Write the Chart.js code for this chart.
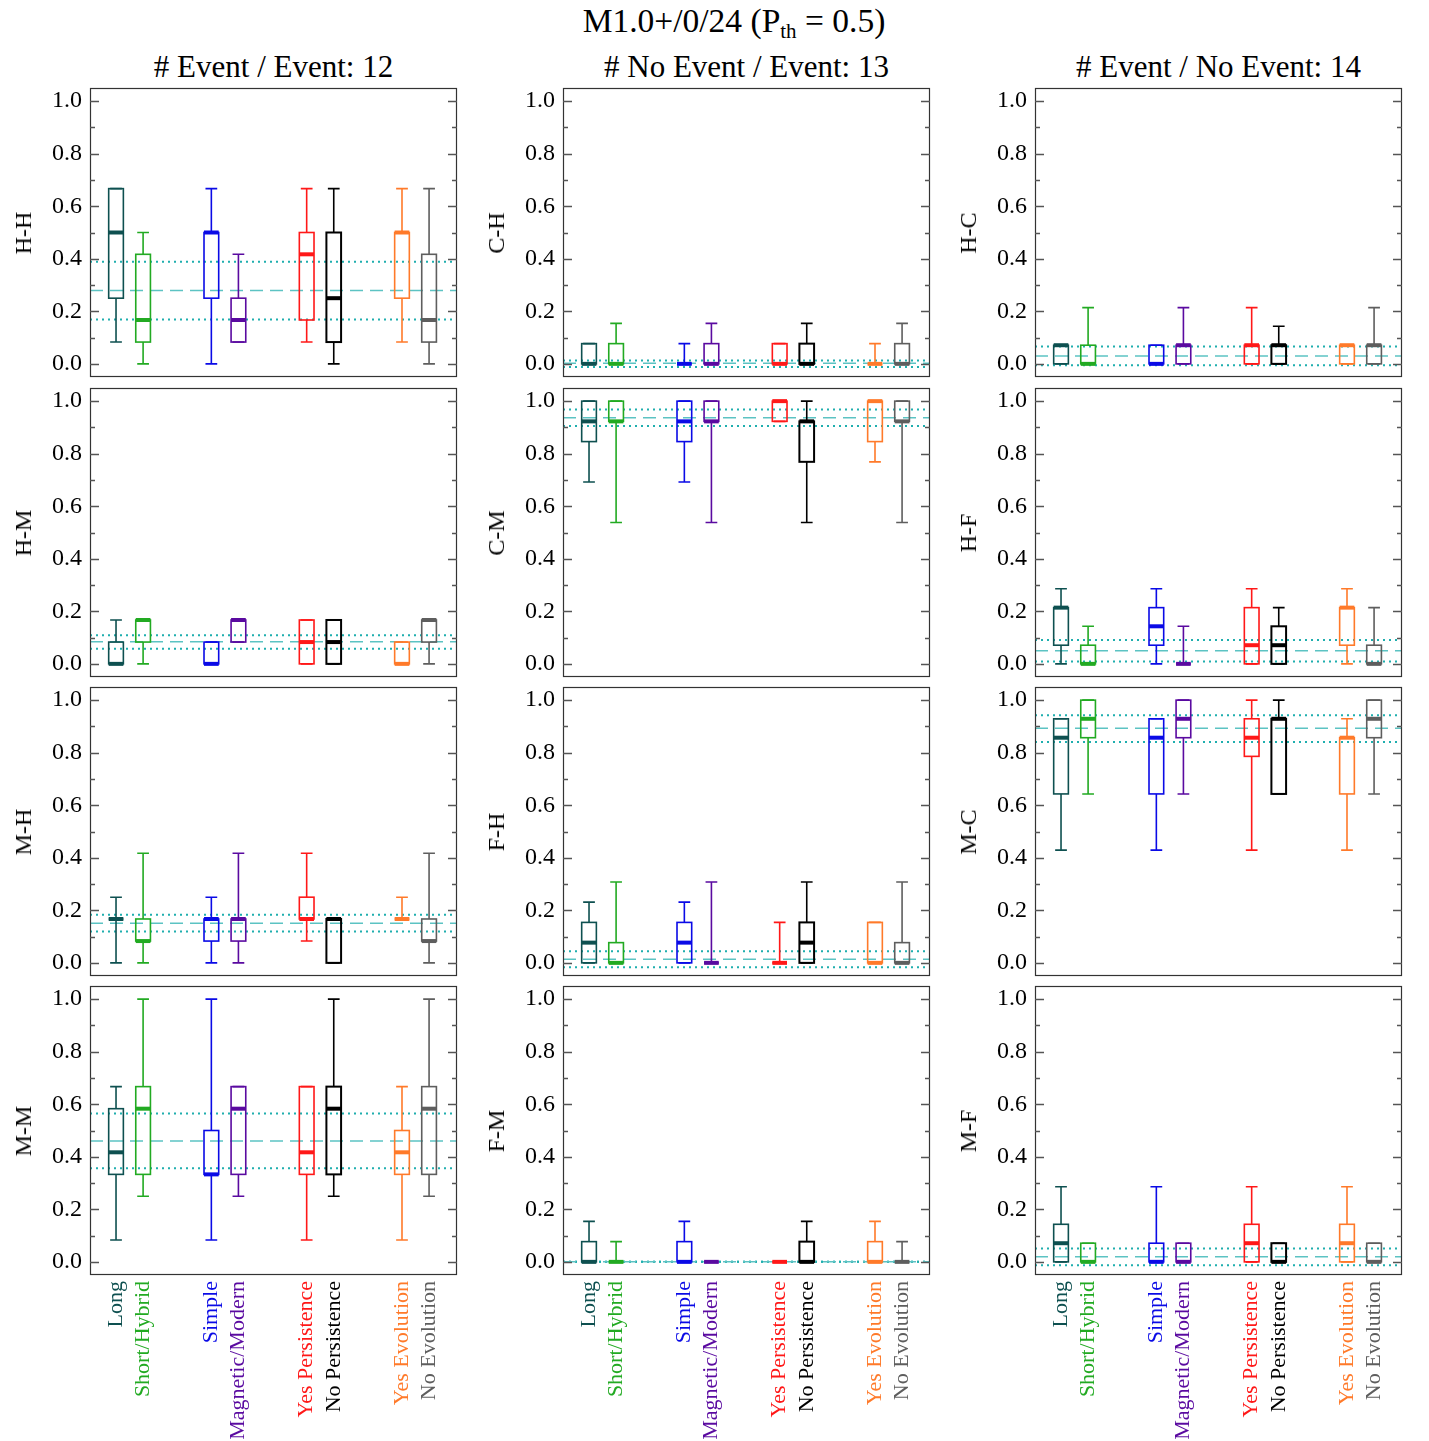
<!DOCTYPE html>
<html><head><meta charset="utf-8">
<script src="https://cdn.jsdelivr.net/npm/chart.js@4.4.0/dist/chart.umd.min.js"></script>
<style>
body{margin:0;background:#fff;}
#page{position:relative;width:1429px;height:1441px;overflow:hidden;background:#fff;font-family:"Liberation Serif","DejaVu Serif",serif;color:#000;}
#page canvas{position:absolute;}
.t{position:absolute;white-space:nowrap;transform:translate(-50%,-50%);line-height:1;}
.r{position:absolute;white-space:nowrap;transform:translate(-50%,-50%) rotate(-90deg);font-size:24px;line-height:1;}
</style></head><body><div id="page"></div>
<script>
// ---------- data ----------
const mainTitle = 'M1.0+/0/24 (P<sub style="font-size:21px;vertical-align:-6px">th</sub> = 0.5)';
const columnTitles = ['# Event / Event: 12', '# No Event / Event: 13', '# Event / No Event: 14'];
const rowLabels = [['H-H','C-H','H-C'],['H-M','C-M','H-F'],['M-H','F-H','M-C'],['M-M','F-M','M-F']];
const categories = ['Long','Short/Hybrid','Simple','Magnetic/Modern','Yes Persistence','No Persistence','Yes Evolution','No Evolution'];
const categoryGroup = [1,1,2,2,3,3,4,4];
const categorySide = [-1,1,-1,1,-1,1,-1,1];
const yTickValues = [0,0.2,0.4,0.6,0.8,1.0];

// each entry: [whisker low, q1, median, q3, whisker high]
const HH = [[0.083,0.25,0.5,0.667,0.667],[0,0.083,0.167,0.417,0.5],[0,0.25,0.5,0.5,0.667],[0.083,0.083,0.167,0.25,0.417],[0.083,0.167,0.417,0.5,0.667],[0,0.083,0.25,0.5,0.667],[0.083,0.25,0.5,0.5,0.667],[0,0.083,0.167,0.417,0.667]];
const CH = [[0,0,0,0.077,0.077],[0,0,0,0.077,0.154],[0,0,0,0,0.077],[0,0,0,0.077,0.154],[0,0,0,0.077,0.077],[0,0,0,0.077,0.154],[0,0,0,0,0.077],[0,0,0,0.077,0.154]];
const HC = [[0,0,0.071,0.071,0.071],[0,0,0,0.071,0.214],[0,0,0,0.071,0.071],[0,0,0.071,0.071,0.214],[0,0,0.071,0.071,0.214],[0,0,0.071,0.071,0.143],[0,0,0.071,0.071,0.071],[0,0,0.071,0.071,0.214]];
const HM = [[0,0,0,0.083,0.167],[0,0.083,0.167,0.167,0.167],[0,0,0,0.083,0.083],[0.083,0.083,0.167,0.167,0.167],[0,0,0.083,0.167,0.167],[0,0,0.083,0.167,0.167],[0,0,0,0.083,0.083],[0,0.083,0.167,0.167,0.167]];
const CM = [[0.692,0.846,0.923,1,1],[0.538,0.923,0.923,1,1],[0.692,0.846,0.923,1,1],[0.538,0.923,0.923,1,1],[0.923,0.923,1,1,1],[0.538,0.769,0.923,0.923,1],[0.769,0.846,1,1,1],[0.538,0.923,0.923,1,1]];
const HF = [[0,0.071,0.214,0.214,0.286],[0,0,0,0.071,0.143],[0,0.071,0.143,0.214,0.286],[0,0,0,0,0.143],[0,0,0.071,0.214,0.286],[0,0,0.071,0.143,0.214],[0,0.071,0.214,0.214,0.286],[0,0,0,0.071,0.214]];
const MH = [[0,0.167,0.167,0.167,0.25],[0,0.083,0.083,0.167,0.417],[0,0.083,0.167,0.167,0.25],[0,0.083,0.167,0.167,0.417],[0.083,0.167,0.167,0.25,0.417],[0,0,0.167,0.167,0.167],[0.167,0.167,0.167,0.167,0.25],[0,0.083,0.083,0.167,0.417]];
const FH = [[0,0,0.077,0.154,0.231],[0,0,0,0.077,0.308],[0,0,0.077,0.154,0.231],[0,0,0,0,0.308],[0,0,0,0,0.154],[0,0,0.077,0.154,0.308],[0,0,0,0.154,0.154],[0,0,0,0.077,0.308]];
const MC = [[0.429,0.643,0.857,0.929,0.929],[0.643,0.857,0.929,1,1],[0.429,0.643,0.857,0.929,0.929],[0.643,0.857,0.929,1,1],[0.429,0.786,0.857,0.929,1],[0.643,0.643,0.929,0.929,1],[0.429,0.643,0.857,0.857,0.929],[0.643,0.857,0.929,1,1]];
const MM = [[0.083,0.333,0.417,0.583,0.667],[0.25,0.333,0.583,0.667,1],[0.083,0.333,0.333,0.5,1],[0.25,0.333,0.583,0.667,0.667],[0.083,0.333,0.417,0.667,0.667],[0.25,0.333,0.583,0.667,1],[0.083,0.333,0.417,0.5,0.667],[0.25,0.333,0.583,0.667,1]];
const FM = [[0,0,0,0.077,0.154],[0,0,0,0,0.077],[0,0,0,0.077,0.154],[0,0,0,0,0],[0,0,0,0,0],[0,0,0,0.077,0.154],[0,0,0,0.077,0.154],[0,0,0,0,0.077]];
const MF = [[0,0,0.071,0.143,0.286],[0,0,0,0.071,0.071],[0,0,0,0.071,0.286],[0,0,0,0.071,0.071],[0,0,0.071,0.143,0.286],[0,0,0,0.071,0.071],[0,0,0.071,0.143,0.286],[0,0,0,0.071,0.071]];

// reference lines: [mean (dashed), lower (dotted), upper (dotted)]
const HH_ref = [0.279,0.169,0.389];
const CH_ref = [0.002,-0.012,0.013];
const HC_ref = [0.030,-0.005,0.066];
const HM_ref = [0.084,0.058,0.109];
const CM_ref = [0.937,0.905,0.968];
const HF_ref = [0.050,0.009,0.091];
const MH_ref = [0.151,0.119,0.183];
const FH_ref = [0.014,-0.017,0.044];
const MC_ref = [0.893,0.841,0.942];
const MM_ref = [0.460,0.356,0.565];
const FM_ref = [0,0,0];
const MF_ref = [0.019,-0.013,0.051];

const panelData = [[HH,CH,HC],[HM,CM,HF],[MH,FH,MC],[MM,FM,MF]];
const panelRefs = [[HH_ref,CH_ref,HC_ref],[HM_ref,CM_ref,HF_ref],[MH_ref,FH_ref,MC_ref],[MM_ref,FM_ref,MF_ref]];

// ---------- styles / layout ----------
const categoryColors = ['#0e5050','#22aa22','#0a0ae6','#5a0aa0','#ff1818','#000000','#ff7a2a','#5e5e5e'];
const refDashColor = '#5cc3c3';
const refDotColor = '#1faeae';
const pairOffset = 0.142, boxHalf = 0.077;
const colLeft = [90,563,1035], rowTop = [88,388,687,986];
const plotW = 367, plotH = 289;
const X_MIN = 0.585, X_MAX = 4.435, Y_MIN = -0.05, Y_MAX = 1.05;

const page = document.getElementById('page');
function addText(cls, html, x, y, size, color){
  const d = document.createElement('div');
  d.className = cls; d.innerHTML = html;
  d.style.left = x+'px'; d.style.top = y+'px';
  if(size) d.style.fontSize = size+'px';
  if(color) d.style.color = color;
  page.appendChild(d);
}
addText('t', mainTitle, 734, 23, 33.5);
columnTitles.forEach((t,c)=>addText('t', t, colLeft[c]+plotW/2, 66, 31));

const boxPlugin = {
  id:'boxes',
  afterDatasetsDraw(chart){
    const {ctx, chartArea:a, scales:{x,y}} = chart;
    const ref = chart.options.plugins.boxes.ref;
    ctx.save();
    ctx.beginPath(); ctx.rect(a.left,a.top,a.right-a.left,a.bottom-a.top); ctx.clip();
    // reference lines
    ctx.lineWidth = 2; ctx.strokeStyle = refDotColor; ctx.setLineDash([2,4]);
    [ref[1],ref[2]].forEach(v=>{const py=y.getPixelForValue(v);ctx.beginPath();ctx.moveTo(a.left,py);ctx.lineTo(a.right,py);ctx.stroke();});
    ctx.lineWidth = 1.5; ctx.strokeStyle = refDashColor; ctx.setLineDash([13,7]);
    {const py=y.getPixelForValue(ref[0]);ctx.beginPath();ctx.moveTo(a.left,py);ctx.lineTo(a.right,py);ctx.stroke();}
    ctx.setLineDash([]);
    // boxes
    chart.data.datasets[0].data.forEach((d,i)=>{
      const col = categoryColors[i];
      const xc = x.getPixelForValue(d.x);
      const hw = x.getPixelForValue(d.x+boxHalf)-xc;
      const cw = hw*0.8;
      const pLo=y.getPixelForValue(d.s[0]), pQ1=y.getPixelForValue(d.s[1]), pMed=y.getPixelForValue(d.s[2]), pQ3=y.getPixelForValue(d.s[3]), pHi=y.getPixelForValue(d.s[4]);
      ctx.strokeStyle = col; ctx.lineWidth = 1.6;
      ctx.beginPath();
      ctx.moveTo(xc,pQ3); ctx.lineTo(xc,pHi);
      ctx.moveTo(xc-cw,pHi); ctx.lineTo(xc+cw,pHi);
      ctx.moveTo(xc,pQ1); ctx.lineTo(xc,pLo);
      ctx.moveTo(xc-cw,pLo); ctx.lineTo(xc+cw,pLo);
      ctx.stroke();
      ctx.lineWidth = i===5 ? 2 : 1.6;
      ctx.strokeRect(xc-hw,pQ3,2*hw,pQ1-pQ3);
      ctx.lineWidth = 4;
      ctx.beginPath(); ctx.moveTo(xc-hw,pMed); ctx.lineTo(xc+hw,pMed); ctx.stroke();
    });
    ctx.restore();
    // frame and inward ticks
    ctx.save();
    ctx.strokeStyle = '#333'; ctx.lineWidth = 1.2;
    ctx.strokeRect(a.left+0.5,a.top+0.5,a.right-a.left-1,a.bottom-a.top-1);
    ctx.strokeStyle = '#555'; ctx.lineWidth = 1.5;
    for(let k=0;k<=10;k++){
      const py = Math.round(y.getPixelForValue(k/10))+0.5;
      const len = k%2===0 ? 9 : 5;
      ctx.beginPath();
      ctx.moveTo(a.left,py); ctx.lineTo(a.left+len,py);
      ctx.moveTo(a.right,py); ctx.lineTo(a.right-len,py);
      ctx.stroke();
    }
    ctx.restore();
  }
};

const PAD = 12, YAXW = 80, XAXH = 175;
for(let r=0;r<4;r++){
  for(let c=0;c<3;c++){
    const bottomRow = r===3;
    const cv = document.createElement('canvas');
    const w = YAXW+plotW+PAD, h = PAD+plotH+(bottomRow?XAXH:PAD);
    cv.width = w; cv.height = h;
    cv.style.width = w+'px'; cv.style.height = h+'px';
    cv.style.left = (colLeft[c]-YAXW)+'px'; cv.style.top = (rowTop[r]-PAD)+'px';
    page.appendChild(cv);
    addText('r', rowLabels[r][c], colLeft[c]-67, rowTop[r]+plotH/2);
    const stats = panelData[r][c];
    const pts = stats.map((s,i)=>({x: categoryGroup[i]+categorySide[i]*pairOffset, y: s[2], s: s}));
    new Chart(cv, {
      type:'scatter',
      data:{datasets:[{data:pts, pointRadius:0, pointHoverRadius:0, showLine:false}]},
      options:{
        responsive:false, animation:false, devicePixelRatio:1,
        layout:{padding:{left:0,top:PAD,right:PAD,bottom:bottomRow?0:PAD}},
        plugins:{legend:{display:false}, tooltip:{enabled:false}, boxes:{ref: panelRefs[r][c]}},
        events:[],
        scales:{
          x:{type:'linear', min:X_MIN, max:X_MAX, display:bottomRow,
             grid:{display:false, drawTicks:false}, border:{display:false},
             afterBuildTicks:(s)=>{ s.ticks = pts.map(p=>({value:p.x})); },
             afterFit:(s)=>{ s.height = bottomRow ? XAXH : 0; s.paddingLeft = 0; s.paddingRight = 0; s.paddingTop = 0; s.paddingBottom = 0; },
             ticks:{autoSkip:false, minRotation:90, maxRotation:90, padding:6,
               font:{family:'"Liberation Serif", serif', size:22},
               color:(ctx)=>categoryColors[ctx.index],
               callback:(v,i)=>categories[i]}},
          y:{type:'linear', min:Y_MIN, max:Y_MAX,
             grid:{display:false, drawTicks:false}, border:{display:false},
             afterBuildTicks:(s)=>{ s.ticks = yTickValues.map(v=>({value:v})); },
             afterFit:(s)=>{ s.width = YAXW; s.paddingTop = 0; s.paddingBottom = 0; s.paddingLeft = 0; s.paddingRight = 0; },
             ticks:{padding:8, color:'#000', font:{family:'"Liberation Serif", serif', size:24},
               callback:(v)=>Number(v).toFixed(1)}}
        }
      },
      plugins:[boxPlugin]
    });
  }
}
</script></body></html>
